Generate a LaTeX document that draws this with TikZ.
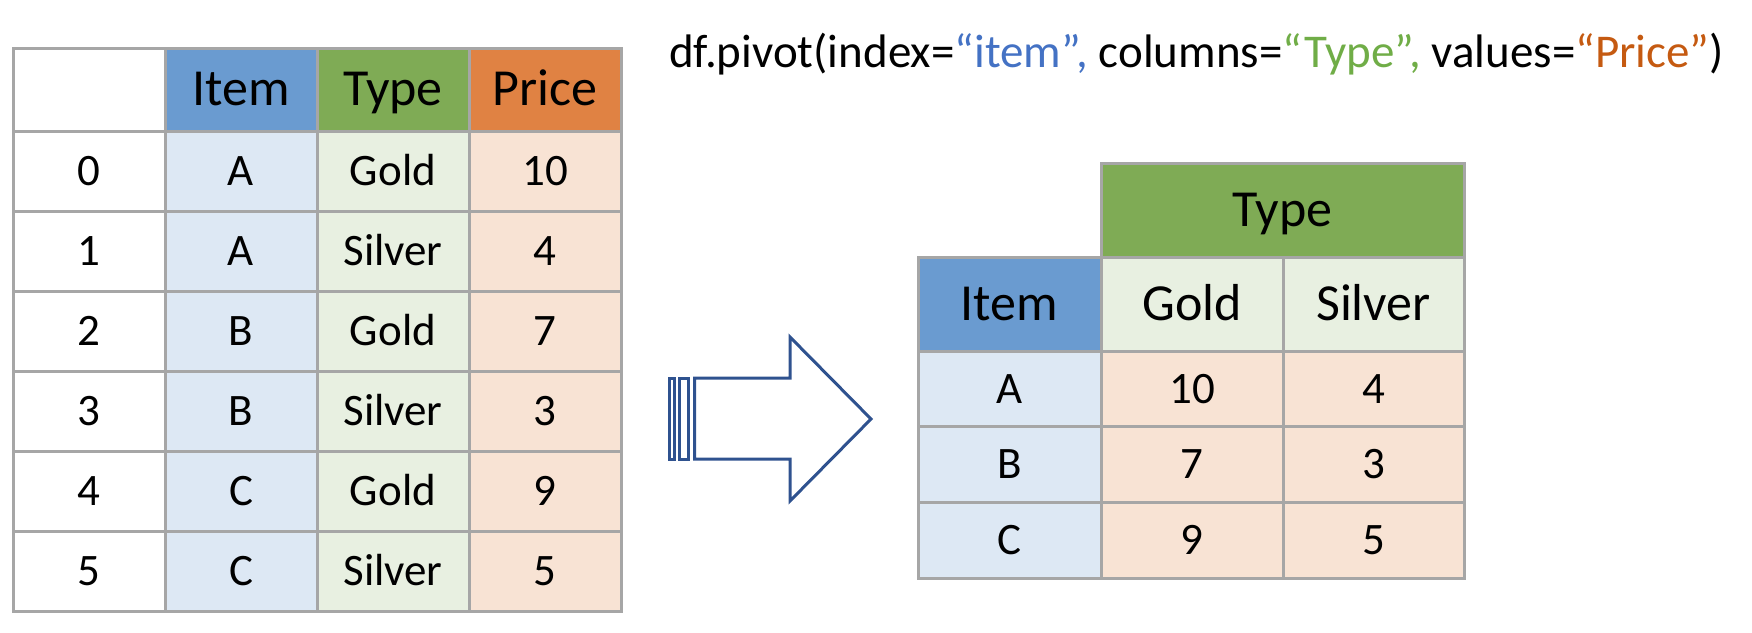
\documentclass[tikz,border=0pt]{standalone}
\usepackage{fontspec}
\setmainfont{Carlito}
\definecolor{gridgray}{HTML}{A6A6A6}
\definecolor{hblue}{HTML}{6A9BD0}
\definecolor{hgreen}{HTML}{7FAB55}
\definecolor{horange}{HTML}{E08243}
\definecolor{lblue}{HTML}{DDE8F4}
\definecolor{lgreen}{HTML}{E8F0E1}
\definecolor{lorange}{HTML}{F8E3D4}
\definecolor{tblue}{HTML}{4472C4}
\definecolor{tgreen}{HTML}{70AD47}
\definecolor{torange}{HTML}{C55A11}
\definecolor{arrowblue}{HTML}{2F528F}
\newcommand\mkcell[7]{%
  \node[cell,#6,minimum width={(#4-#2)*1pt},minimum height={(#5-#3)*1pt}] (#1) at ({(#2+#4)/2},{(#3+#5)/2}) {#7};}
\begin{document}
\begin{tikzpicture}[x=1pt,y=-1pt,
  cell/.style={draw=gridgray,line width=3pt,inner sep=0pt,text height=28.4pt,text depth=0pt,font=\fontsize{45}{50}\selectfont},
  hdr/.style={font=\fontsize{52}{58}\selectfont,text height=32.9pt},
  arrowline/.style={draw=arrowblue,line width=3pt,line join=miter}]
\useasboundingbox (0,0) rectangle (1752,632);
% ---------- left table ----------
\mkcell{lc00}{13}{48}{165}{131}{fill=white}{}
\mkcell{lh1}{165}{48}{317}{131}{fill=hblue,hdr}{Item}
\mkcell{lh2}{317}{48}{469}{131}{fill=hgreen,hdr}{Type}
\mkcell{lh3}{469}{48}{621}{131}{fill=horange,hdr}{Price}
\foreach \r/\it/\ty/\pr [count=\i from 0] in {A/Gold/10,A/Silver/4,B/Gold/7,B/Silver/3,C/Gold/9,C/Silver/5}{
  \pgfmathsetmacro\ya{131+80*\i}
  \pgfmathsetmacro\yb{131+80*(\i+1)}
  \mkcell{li\i}{13}{\ya}{165}{\yb}{fill=white}{\i}
  \mkcell{la\i}{165}{\ya}{317}{\yb}{fill=lblue}{\r}
  \mkcell{lb\i}{317}{\ya}{469}{\yb}{fill=lgreen}{\it}
  \mkcell{lp\i}{469}{\ya}{621}{\yb}{fill=lorange}{\ty}
}
% ---------- title ----------
\node[anchor=base west,inner sep=0pt,font=\fontsize{47}{54}\selectfont] (title) at (669,67)
  {df.pivot(index=\textcolor{tblue}{“item”,} columns=\textcolor{tgreen}{“Type”,} values=\textcolor{torange}{“Price”})};
% ---------- arrow ----------
\draw[arrowline] (669.5,378) rectangle (674,459);
\draw[arrowline] (679.5,378) rectangle (688.5,459);
\draw[arrowline] (694.5,378) -- (790,378) -- (790,337) -- (871,419) -- (790,501) -- (790,459) -- (694.5,459) -- cycle;
% ---------- right table ----------
\mkcell{rtype}{1101}{163}{1464}{257}{fill=hgreen,hdr}{Type}
\mkcell{ritem}{918}{257}{1101}{351}{fill=hblue,hdr}{Item}
\mkcell{rgold}{1101}{257}{1283}{351}{fill=lgreen,hdr}{Gold}
\mkcell{rsilver}{1283}{257}{1464}{351}{fill=lgreen,hdr}{Silver}
\foreach \r/\g/\s [count=\i from 0] in {A/10/4,B/7/3,C/9/5}{
  \pgfmathsetmacro\ya{351+75.7*\i}
  \pgfmathsetmacro\yb{351+75.7*(\i+1)}
  \mkcell{ra\i}{918}{\ya}{1101}{\yb}{fill=lblue}{\r}
  \mkcell{rg\i}{1101}{\ya}{1283}{\yb}{fill=lorange}{\g}
  \mkcell{rs\i}{1283}{\ya}{1464}{\yb}{fill=lorange}{\s}
}
\end{tikzpicture}
\end{document}
